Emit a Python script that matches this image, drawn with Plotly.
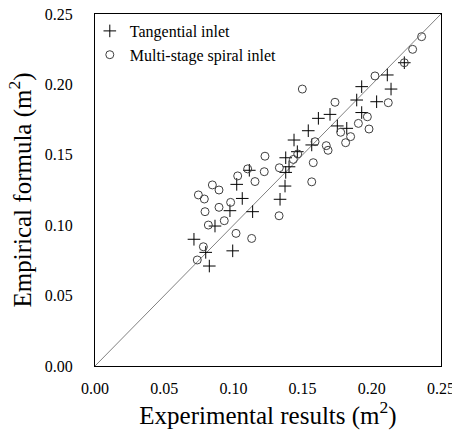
import plotly.graph_objects as go

tang_x = [0.0826, 0.0715, 0.0800, 0.0995, 0.0867, 0.0975, 0.1139, 0.1064, 0.1024, 0.1115,
          0.1337, 0.1373, 0.1378, 0.1402, 0.1378, 0.1462, 0.1438, 0.1566, 0.1541, 0.1614,
          0.1698, 0.1751, 0.1819, 0.1927, 0.1891, 0.2035, 0.1927, 0.2139, 0.2112, 0.2235]
tang_y = [0.0710, 0.0900, 0.0807, 0.0818, 0.0994, 0.1103, 0.1096, 0.1190, 0.1290, 0.1390,
          0.1184, 0.1278, 0.1375, 0.1415, 0.1479, 0.1522, 0.1605, 0.1570, 0.1671, 0.1759,
          0.1787, 0.1705, 0.1688, 0.1800, 0.1889, 0.1877, 0.1984, 0.1967, 0.2067, 0.2154]

spiral_x = [0.0739, 0.0783, 0.0819, 0.0795, 0.0747, 0.0790, 0.0848, 0.0896, 0.0896, 0.0934,
            0.0980, 0.1019, 0.1031, 0.1103, 0.1156, 0.1132, 0.1223, 0.1228, 0.1330, 0.1332,
            0.1433, 0.1465, 0.1498, 0.1566, 0.1577, 0.1590, 0.1671, 0.1684, 0.1734, 0.1775,
            0.1811, 0.1847, 0.1903, 0.1968, 0.1980, 0.2023, 0.2119, 0.2235, 0.2295, 0.2360]
spiral_y = [0.0753, 0.0847, 0.1001, 0.1096, 0.1215, 0.1186, 0.1286, 0.1250, 0.1127, 0.1032,
            0.1162, 0.0942, 0.1350, 0.1400, 0.1310, 0.0906, 0.1380, 0.1490, 0.1067, 0.1408,
            0.1467, 0.1506, 0.1967, 0.1308, 0.1444, 0.1593, 0.1565, 0.1532, 0.1873, 0.1660,
            0.1586, 0.1629, 0.1723, 0.1770, 0.1683, 0.2060, 0.1870, 0.2154, 0.2249, 0.2339]

line_xy = [0.0, 0.25]
tick_vals = [0.00, 0.05, 0.10, 0.15, 0.20, 0.25]
tick_text = ["0.00", "0.05", "0.10", "0.15", "0.20", "0.25"]

FONT = "Liberation Serif, Times New Roman, DejaVu Serif, serif"

fig = go.Figure()
fig.add_trace(go.Scatter(x=line_xy, y=line_xy, mode="lines",
                         line=dict(color="#808080", width=1), showlegend=False,
                         hoverinfo="skip"))
fig.add_trace(go.Scatter(x=tang_x, y=tang_y, mode="markers", name="Tangential inlet",
                         marker=dict(symbol="cross-thin-open", size=9, color="#000000",
                                     line=dict(color="#000000", width=1))))
fig.add_trace(go.Scatter(x=spiral_x, y=spiral_y, mode="markers", name="Multi-stage spiral inlet",
                         marker=dict(symbol="circle-open", size=8, color="#404040",
                                     line=dict(color="#404040", width=1))))

axis_common = dict(range=[0, 0.25], tickvals=tick_vals, ticktext=tick_text,
                   showgrid=False, zeroline=False, showline=True, mirror=True,
                   linecolor="#000000", linewidth=1, ticks="", automargin=False,
                   ticklabeloverflow="allow",
                   tickfont=dict(family=FONT, size=16, color="#000000"))

fig.update_layout(
    width=452, height=431,
    margin=dict(l=95, r=11, t=14, b=65),
    paper_bgcolor="white", plot_bgcolor="white",
    font=dict(family=FONT, color="#000000"),
    xaxis=dict(**axis_common, ticklabelstandoff=8,
               title=dict(text="Experimental results (m<sup>2</sup>)",
                          font=dict(family=FONT, size=25), standoff=6)),
    yaxis=dict(**axis_common, ticklabelstandoff=18,
               title=dict(text="Empirical formula (m<sup>2</sup>)",
                          font=dict(family=FONT, size=25), standoff=6)),
    legend=dict(x=-0.015, y=1.0, xanchor="left", yanchor="top",
                font=dict(family=FONT, size=16), bgcolor="rgba(0,0,0,0)",
                itemwidth=30, tracegroupgap=0),
    showlegend=True,
)

fig.write_html("out.html", post_script="document.body.style.margin='0';",
               config={"displayModeBar": False})
